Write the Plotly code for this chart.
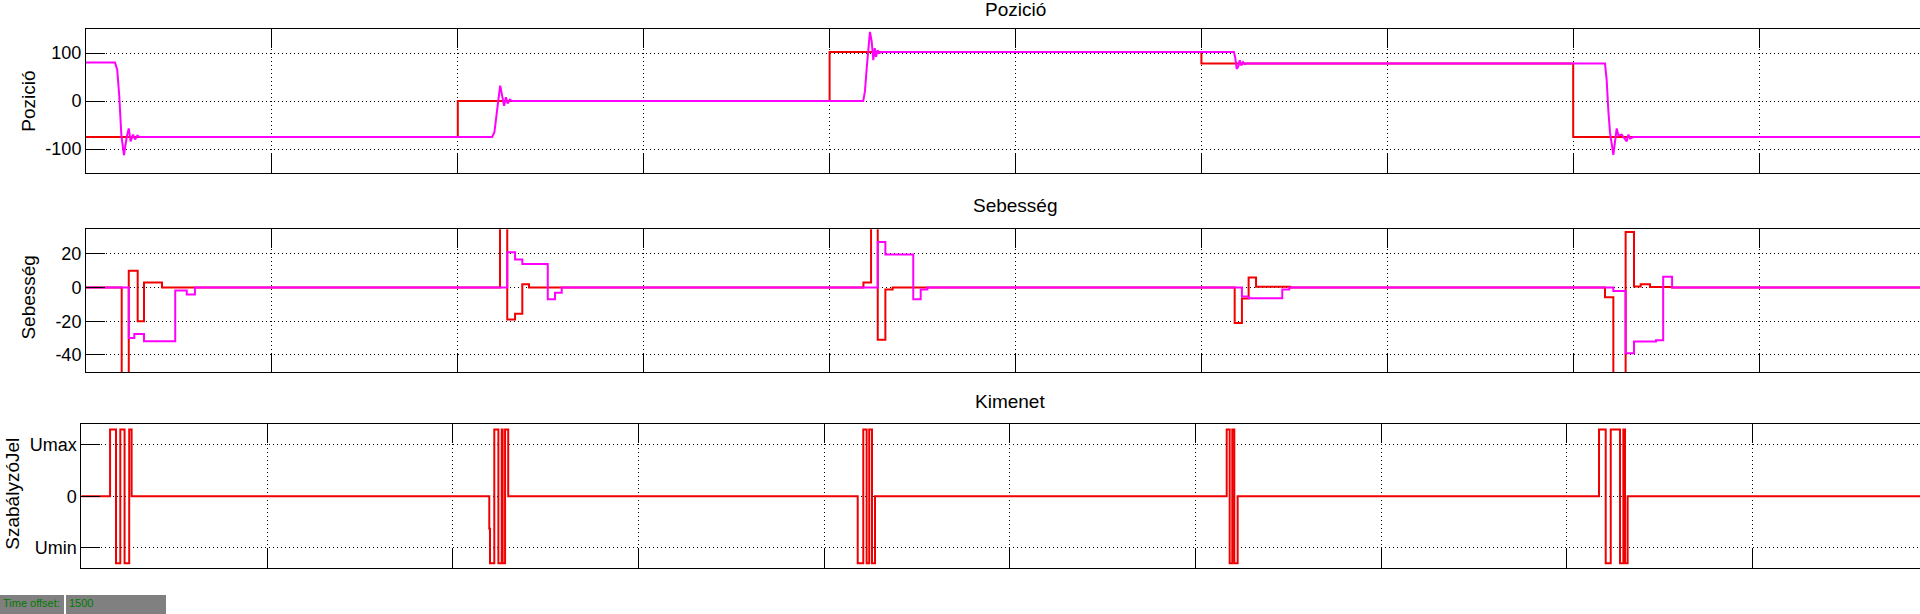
import plotly.graph_objects as go

# ---------------- data (time in s, relative to time offset 1500) ----------------
pozicio_ref_t = [0, 2.0, 4.0, 6.0, 8.0, 10.0]
pozicio_ref_v = [-75, 0, 102, 78, -75, -75]

pozicio_mert_t = [0, 0.156, 0.168, 0.179, 0.190, 0.204, 0.219, 0.230, 0.240, 0.253, 0.264, 0.276, 0.290,
                  2.185, 2.197, 2.208, 2.219, 2.228, 2.240, 2.249, 2.259, 2.268, 2.280, 2.293,
                  4.181, 4.190, 4.200, 4.209, 4.217, 4.226, 4.235, 4.243, 4.250, 4.258, 4.266, 4.282,
                  6.175, 6.182, 6.190, 6.199, 6.206, 6.215, 6.224, 6.233, 6.245,
                  8.171, 8.180, 8.189, 8.198, 8.216, 8.234, 8.243, 8.261, 8.288, 8.297, 8.306, 8.324, 10.0]
pozicio_mert_v = [80, 80, 65, 10, -70, -113, -75, -57, -84, -70, -80, -72, -75,
                  -75, -65, -35, 5, 32, 5, -10, 8, -5, 3, 0,
                  0, 20, 70, 115, 144, 125, 85, 110, 92, 106, 100, 102,
                  102, 90, 67, 72, 85, 74, 81, 77, 78,
                  78, 44, -20, -66, -112, -57, -72, -70, -84, -70, -78, -75, -75]

sebesseg_ref_t = [0, 0.192, 0.230, 0.278, 0.312, 0.409,
                  2.227, 2.266, 2.308, 2.347, 2.383,
                  4.182, 4.223, 4.259, 4.300, 4.339,
                  6.179, 6.218, 6.254, 6.294, 6.477,
                  8.171, 8.216, 8.282, 8.327, 8.363, 8.413, 8.532, 10.0]
sebesseg_ref_v = [0, -70, 10, -20, 3, 0,
                  60, -19, -15.5, 2, 0,
                  3, 60, -31, -1.2, 0,
                  -21, -6.5, 6, 0.5, 0,
                  -5.7, -70, 33, 0.6, 2, 0.3, 0, 0]

sebesseg_mert_t = [0, 0.230, 0.260, 0.312, 0.480, 0.542, 0.586,
                   2.266, 2.308, 2.347, 2.484, 2.523, 2.559,
                   4.259, 4.300, 4.450, 4.490, 4.526,
                   6.218, 6.254, 6.435, 6.473,
                   8.216, 8.282, 8.327, 8.445, 8.484, 8.532, 10.0]
sebesseg_mert_v = [0, -30, -27.6, -31.8, -1.8, -4.1, 0,
                   21, 16.6, 14, -7, -3, 0,
                   27, 19.7, -7, -1.2, 0,
                   -5.3, -6.3, -1.2, 0,
                   -2, -39, -32, -31.2, 6.5, 0, 0]

kimenet_t = [0, 0.155, 0.187, 0.210, 0.233, 0.258, 0.271,
             2.197, 2.201, 2.224, 2.246, 2.264, 2.269, 2.282, 2.299,
             4.181, 4.211, 4.229, 4.243, 4.258, 4.274,
             6.168, 6.184, 6.198, 6.209, 6.227,
             8.173, 8.209, 8.236, 8.286, 8.304, 8.313, 8.327, 10.0]
kimenet_v = [0, 1.3, -1.3, 1.3, -1.3, 1.3, 0,
             -0.63, -1.3, 1.3, -1.3, 1.3, -1.3, 1.3, 0,
             -1.3, 1.3, -1.3, 1.3, -1.3, 0,
             1.3, -1.3, 1.3, -1.3, 0,
             1.3, -1.3, 1.3, -1.3, 1.3, -1.3, 0, 0]

x_ticks = list(range(11))
pozicio_ticks = [-100, 0, 100]
pozicio_ticktext = ["-100", "0", "100"]
sebesseg_ticks = [-40, -20, 0, 20]
sebesseg_ticktext = ["-40", "-20", "0", "20"]
kimenet_ticks = [-1, 0, 1]
kimenet_ticktext = ["Umin", "0", "Umax"]

# ---------------- figure ----------------
W, H = 1920, 614
FONT = "Liberation Sans, Arial, Helvetica, sans-serif"
RED = "#F00000"
MAG = "#FF00FF"


def px(x):
    return x / W


def py(y):
    return 1 - y / H


fig = go.Figure()
fig.add_trace(go.Scatter(x=pozicio_ref_t, y=pozicio_ref_v, mode="lines", line=dict(color=RED, width=2, shape="hv"),
                         xaxis="x", yaxis="y", hoverinfo="skip"))
fig.add_trace(go.Scatter(x=pozicio_mert_t, y=pozicio_mert_v, mode="lines", line=dict(color=MAG, width=2),
                         xaxis="x", yaxis="y", hoverinfo="skip"))
fig.add_trace(go.Scatter(x=sebesseg_ref_t, y=sebesseg_ref_v, mode="lines", line=dict(color=RED, width=2, shape="hv"),
                         xaxis="x2", yaxis="y2", hoverinfo="skip"))
fig.add_trace(go.Scatter(x=sebesseg_mert_t, y=sebesseg_mert_v, mode="lines", line=dict(color=MAG, width=2, shape="hv"),
                         xaxis="x2", yaxis="y2", hoverinfo="skip"))
fig.add_trace(go.Scatter(x=kimenet_t, y=kimenet_v, mode="lines", line=dict(color=RED, width=2, shape="hv"),
                         xaxis="x3", yaxis="y3", hoverinfo="skip"))

xcommon = dict(showline=True, linecolor="black", linewidth=1, mirror="ticks", ticks="inside", ticklen=19,
               tickcolor="black", tickwidth=1, showgrid=True, gridcolor="black", gridwidth=1,
               griddash="1px,3px", zeroline=False, showticklabels=False, tickmode="array",
               tickvals=x_ticks, fixedrange=True)
ycommon = dict(showline=True, linecolor="black", linewidth=1, mirror=False, ticks="inside", ticklen=19,
               tickcolor="black", tickwidth=1, showgrid=True, gridcolor="black", gridwidth=1,
               griddash="1px,3px", zeroline=False, tickmode="array",
               tickfont=dict(family=FONT, size=18, color="black"), fixedrange=True)

x12_left = 86
x12_div = 185.9
x3_left = 81.3
x3_div = 185.7

fig.update_layout(
    width=W, height=H, autosize=False,
    margin=dict(l=0, r=0, t=0, b=0, pad=0),
    paper_bgcolor="white", plot_bgcolor="white", showlegend=False,
    xaxis=dict(xcommon, domain=[px(x12_left), 1], range=[0, (W - x12_left) / x12_div], anchor="y"),
    yaxis=dict(ycommon, domain=[py(173), py(29)], range=[-150, 150], tickvals=pozicio_ticks,
               ticktext=pozicio_ticktext, anchor="x"),
    xaxis2=dict(xcommon, domain=[px(x12_left), 1], range=[0, (W - x12_left) / x12_div], anchor="y2"),
    yaxis2=dict(ycommon, domain=[py(372.3), py(229.3)], range=[-50.3, 34.6], tickvals=sebesseg_ticks,
                ticktext=sebesseg_ticktext, anchor="x2"),
    xaxis3=dict(xcommon, domain=[px(x3_left), 1], range=[0, (W - x3_left) / x3_div], anchor="y3"),
    yaxis3=dict(ycommon, domain=[py(568.3), py(424.3)], range=[-1.4, 1.4], tickvals=kimenet_ticks,
                ticktext=kimenet_ticktext, anchor="x3"),
)

tfont = dict(family=FONT, size=19, color="black")
annots = [
    dict(text="Pozició", x=px(1015.5), y=py(9), textangle=0),
    dict(text="Sebesség", x=px(1015.5), y=py(206), textangle=0),
    dict(text="Kimenet", x=px(1010), y=py(401), textangle=0),
    dict(text="Pozició", x=px(29), y=py(101.7), textangle=-90),
    dict(text="Sebesség", x=px(28.3), y=py(297.3), textangle=-90),
    dict(text="SzabályzóJel", x=px(11.7), y=py(494), textangle=-90),
]
for a in annots:
    fig.add_annotation(xref="paper", yref="paper", xanchor="center", yanchor="middle",
                       showarrow=False, font=tfont, **a)

# "Time offset" status boxes
fig.add_shape(type="rect", xref="paper", yref="paper", x0=px(0), x1=px(64), y0=py(614), y1=py(595),
              fillcolor="#808080", line=dict(width=0), layer="above")
fig.add_shape(type="rect", xref="paper", yref="paper", x0=px(66), x1=px(166), y0=py(614), y1=py(595),
              fillcolor="#808080", line=dict(width=0), layer="above")
gfont = dict(family=FONT, size=11, color="#007A00")
fig.add_annotation(xref="paper", yref="paper", x=px(1), y=py(602.5), xanchor="left", yanchor="middle",
                   text="Time offset:", showarrow=False, font=gfont)
fig.add_annotation(xref="paper", yref="paper", x=px(67), y=py(602.5), xanchor="left", yanchor="middle",
                   text="1500", showarrow=False, font=gfont)

fig.write_html("out.html", config={"displayModeBar": False},
               post_script="document.body.style.margin='0';document.body.style.overflow='hidden';")
